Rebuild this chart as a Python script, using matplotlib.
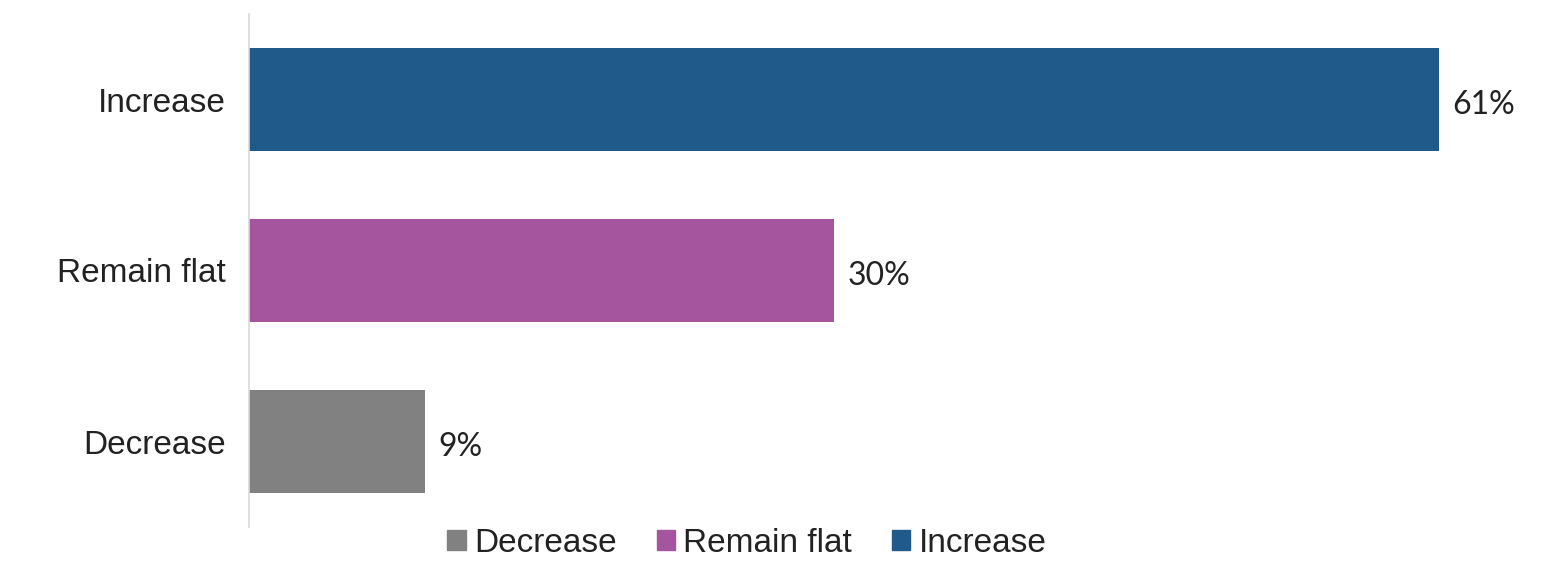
import matplotlib.pyplot as plt
from matplotlib.patches import Patch

# data
categories = ['Decrease', 'Remain flat', 'Increase']
values = [9, 30, 61]
colors = ['#818181', '#a5559e', '#1f5a8a']

plt.rcParams['font.family'] = ['Liberation Sans', 'DejaVu Sans']

fig = plt.figure(figsize=(15.68, 5.62), dpi=100)
ax = fig.add_axes([249 / 1568, 1 - 527 / 562, 65 * 19.5 / 1568, 513 / 562])

ax.barh(range(len(categories)), values, height=0.6, color=colors)
ax.set_xlim(0, 65)
ax.set_ylim(-0.5, 2.5)

for i, v in enumerate(values):
    ax.text(v + 0.7, i - 0.03, f'{v}%', va='center', ha='left', fontsize=23,
            color='#222222', family=['Lato', 'DejaVu Sans'])

ax.set_yticks(range(len(categories)))
ax.set_yticklabels(categories, fontsize=24, color='#222222')
ax.tick_params(axis='y', length=0, pad=17)
ax.set_xticks([])
for s in ['top', 'right', 'bottom']:
    ax.spines[s].set_visible(False)
ax.spines['left'].set_color('#d9d9d9')
ax.spines['left'].set_linewidth(1.2)

handles = [Patch(color=c, label=l) for c, l in zip(colors, categories)]
fig.legend(handles=handles, loc='center', bbox_to_anchor=(747 / 1568, 1 - 543 / 562),
           ncol=3, frameon=False, fontsize=24, handlelength=0.55, handleheight=0.55,
           handletextpad=0.25, columnspacing=1.2, labelcolor='#222222')

fig.savefig('out.png', dpi=100)
